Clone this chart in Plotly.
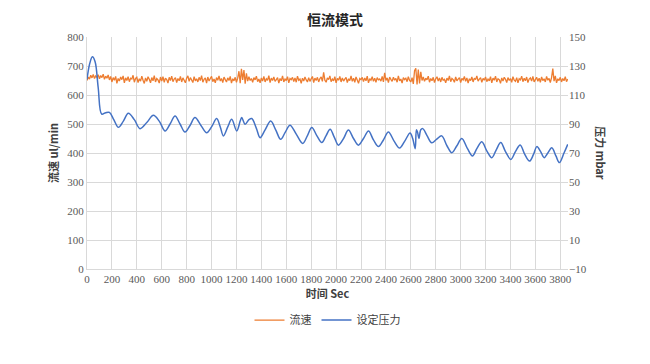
import plotly.graph_objects as go

# ---- data ----
flow_t = list(range(0, 3861, 10))
flow_vals = [
    650, 662, 655, 668, 659, 671, 657, 666, 661, 670, 656, 667, 660, 672, 654, 665, 658, 669, 652, 664,
    645, 660, 651, 664, 640, 657, 648, 662, 653, 666, 642, 659, 650, 663, 646, 658, 655, 668, 644, 657,
    661, 643, 656, 648, 665, 651, 640, 659, 647, 663, 654, 642, 660, 649, 667, 645, 657, 652, 641, 662,
    648, 663, 644, 658, 653, 641, 661, 650, 665, 646, 655, 660, 643, 657, 649, 664, 645, 659, 651, 642,
    658, 666, 647, 660, 652, 643, 663, 649, 656, 645, 661, 650, 667, 644, 654, 659, 641, 662, 648, 657,
    664, 646, 655, 642, 660, 651, 666, 648, 657, 643, 662, 653, 645, 659, 650, 664, 641, 656, 649, 661,
    644, 658, 682, 641, 690, 652, 686, 639, 675, 648, 663, 650, 657, 644, 660, 652, 665, 646, 655, 642,
    659, 648, 664, 645, 656, 651, 667, 643, 658, 650, 662, 647, 653, 660, 641, 657, 649, 666, 645, 655,
    650, 663, 642, 657, 653, 661, 646, 659, 644, 665, 651, 655, 640, 658, 648, 662, 652, 645, 660, 647,
    656, 664, 643, 658, 650, 661, 645, 657, 662, 647, 678, 651, 644, 659, 653, 666, 646, 655, 649, 663,
    642, 657, 651, 664, 645, 659, 648, 655, 661, 643, 656, 650, 666, 647, 658, 644, 662, 652, 640, 657,
    653, 661, 646, 659, 649, 665, 642, 656, 651, 663, 647, 658, 644, 660, 652, 655, 648, 664, 645, 676,
    650, 659, 643, 662, 654, 647, 661, 651, 657, 644, 666, 649, 655, 641, 660, 653, 658, 646, 663, 650,
    645, 660, 638, 684, 692, 636, 688, 640, 680, 650, 662, 647, 658, 652, 665, 644, 657, 649, 661, 643,
    656, 663, 648, 659, 645, 661, 651, 654, 642, 658, 650, 666, 646, 657, 653, 644, 662, 649, 655, 660,
    643, 657, 652, 664, 647, 659, 641, 656, 650, 662, 645, 658, 653, 666, 648, 655, 660, 644, 657, 651,
    662, 646, 655, 649, 663, 642, 658, 651, 665, 645, 656, 653, 640, 659, 648, 661, 654, 643, 660, 650,
    657, 644, 663, 651, 647, 660, 642, 656, 652, 665, 646, 658, 649, 662, 643, 655, 659, 648, 664, 645,
    653, 661, 647, 658, 644, 662, 650, 656, 645, 664, 651, 657, 643, 660, 691, 648, 666, 642, 656, 650,
    661, 645, 657, 649, 663, 646, 655,
]

press_t = [
    0, 20, 43, 65, 90, 118, 150, 180, 215, 252, 292, 332, 380, 426, 480, 533,
    580, 627, 667, 707, 747, 787, 827, 867, 915, 961, 1000, 1041, 1070, 1095,
    1130, 1162, 1202, 1230, 1242, 1270, 1300, 1323, 1360, 1390, 1430, 1475,
    1515, 1555, 1590, 1630, 1680, 1732, 1770, 1805, 1845, 1885, 1920, 1952,
    1985, 2019, 2060, 2099, 2140, 2179, 2220, 2260, 2300, 2340, 2380, 2420,
    2467, 2510, 2550, 2594, 2615, 2635, 2645, 2655, 2665, 2680, 2696, 2730,
    2768, 2808, 2848, 2890, 2929, 2970, 3009, 3055, 3095, 3130, 3170, 3210,
    3250, 3285, 3322, 3360, 3403, 3440, 3478, 3515, 3553, 3585, 3612, 3642,
    3671, 3700, 3732, 3765, 3793, 3830, 3860,
]
press_vals = [
    120.8, 131, 136.4, 133, 115, 96.8, 97.8, 98, 93, 87.7, 92, 97.4, 93, 86.8, 91, 96,
    92, 85.2, 90, 95.6, 90, 84.4, 89, 94.4, 89, 84, 88, 93.8, 88, 81.8,
    88, 93.2, 85.2, 92, 94.4, 89.8, 93, 93.8, 87, 80.6, 86, 92,
    86, 79.4, 84, 89.2, 83, 76.6, 82, 87.6, 82, 77.2, 82, 86.4,
    81, 75.4, 80, 85.8, 80, 75.4, 80, 85.2, 79, 74.4, 79, 84.4,
    78, 73.4, 78, 83.8, 80, 73, 86, 84, 80, 86, 86.8, 82,
    77, 79.5, 81.8, 75, 70.2, 75, 80, 73, 68, 73, 77.8, 71.5,
    66.8, 72, 77.2, 71, 65.6, 71, 75.6, 69, 64.4, 69, 74.4, 71,
    66.8, 70, 73.6, 68, 63.4, 70, 76,
]

x_ticks = list(range(0, 3801, 200))
y2_ticks = list(range(-10, 151, 20))

FONT_NUM = "Liberation Serif"
FONT_CJK = "Noto Sans CJK SC"
TICK_COLOR = "#595959"
GRID = "#d9d9d9"

fig = go.Figure()
fig.add_trace(go.Scatter(
    x=flow_t, y=flow_vals, name="流速", mode="lines",
    line=dict(color="#ED7D31", width=1.3, simplify=False), yaxis="y",
))
fig.add_trace(go.Scatter(
    x=press_t, y=press_vals, name="设定压力", mode="lines",
    line=dict(color="#4472C4", width=1.5, shape="spline", smoothing=1.0), yaxis="y2",
))

fig.update_layout(
    width=650, height=364,
    margin=dict(l=79, r=90, t=29, b=103, autoexpand=False),
    paper_bgcolor="white", plot_bgcolor="white",
    title=dict(text="<b>恒流模式</b>", x=0.503, xanchor="center", y=0.968, yanchor="middle",
               font=dict(family=FONT_CJK, size=14, color="#262626")),
    xaxis=dict(
        range=[0, 3862], tickmode="array", tickvals=x_ticks, automargin=False,
        showgrid=True, gridcolor=GRID, gridwidth=1,
        showline=True, linecolor=GRID, zeroline=False,
        ticks="", tickfont=dict(family=FONT_NUM, size=11, color=TICK_COLOR),
        title=dict(text="<b>时间 Sec</b>", standoff=4,
                   font=dict(family=FONT_CJK, size=11, color="#404040")),
    ),
    yaxis=dict(
        range=[0, 800], dtick=100, automargin=False,
        showgrid=True, gridcolor=GRID, gridwidth=1,
        showline=True, linecolor=GRID, zeroline=False, ticks="",
        tickfont=dict(family=FONT_NUM, size=11, color=TICK_COLOR),
        title=dict(text="<b>流速 ul/min</b>", standoff=6,
                   font=dict(family=FONT_CJK, size=11, color="#404040")),
    ),
    yaxis2=dict(
        range=[-10, 150], tickmode="array", tickvals=y2_ticks, automargin=False,
        overlaying="y", side="right",
        showgrid=False, zeroline=False, showline=False, ticks="",
        tickfont=dict(family=FONT_NUM, size=11, color=TICK_COLOR),
    ),
    legend=dict(orientation="h", x=0.5, xanchor="center", y=-0.22, yanchor="middle",
                font=dict(family=FONT_CJK, size=11, color="#404040"),
                itemwidth=30),
    annotations=[dict(
        text="<b>压力 mbar</b>", xref="paper", yref="paper", x=1.068, y=0.5,
        xanchor="center", yanchor="middle", textangle=90, showarrow=False,
        font=dict(family=FONT_CJK, size=11, color="#404040"),
    )],
)

fig.write_html("out.html")
